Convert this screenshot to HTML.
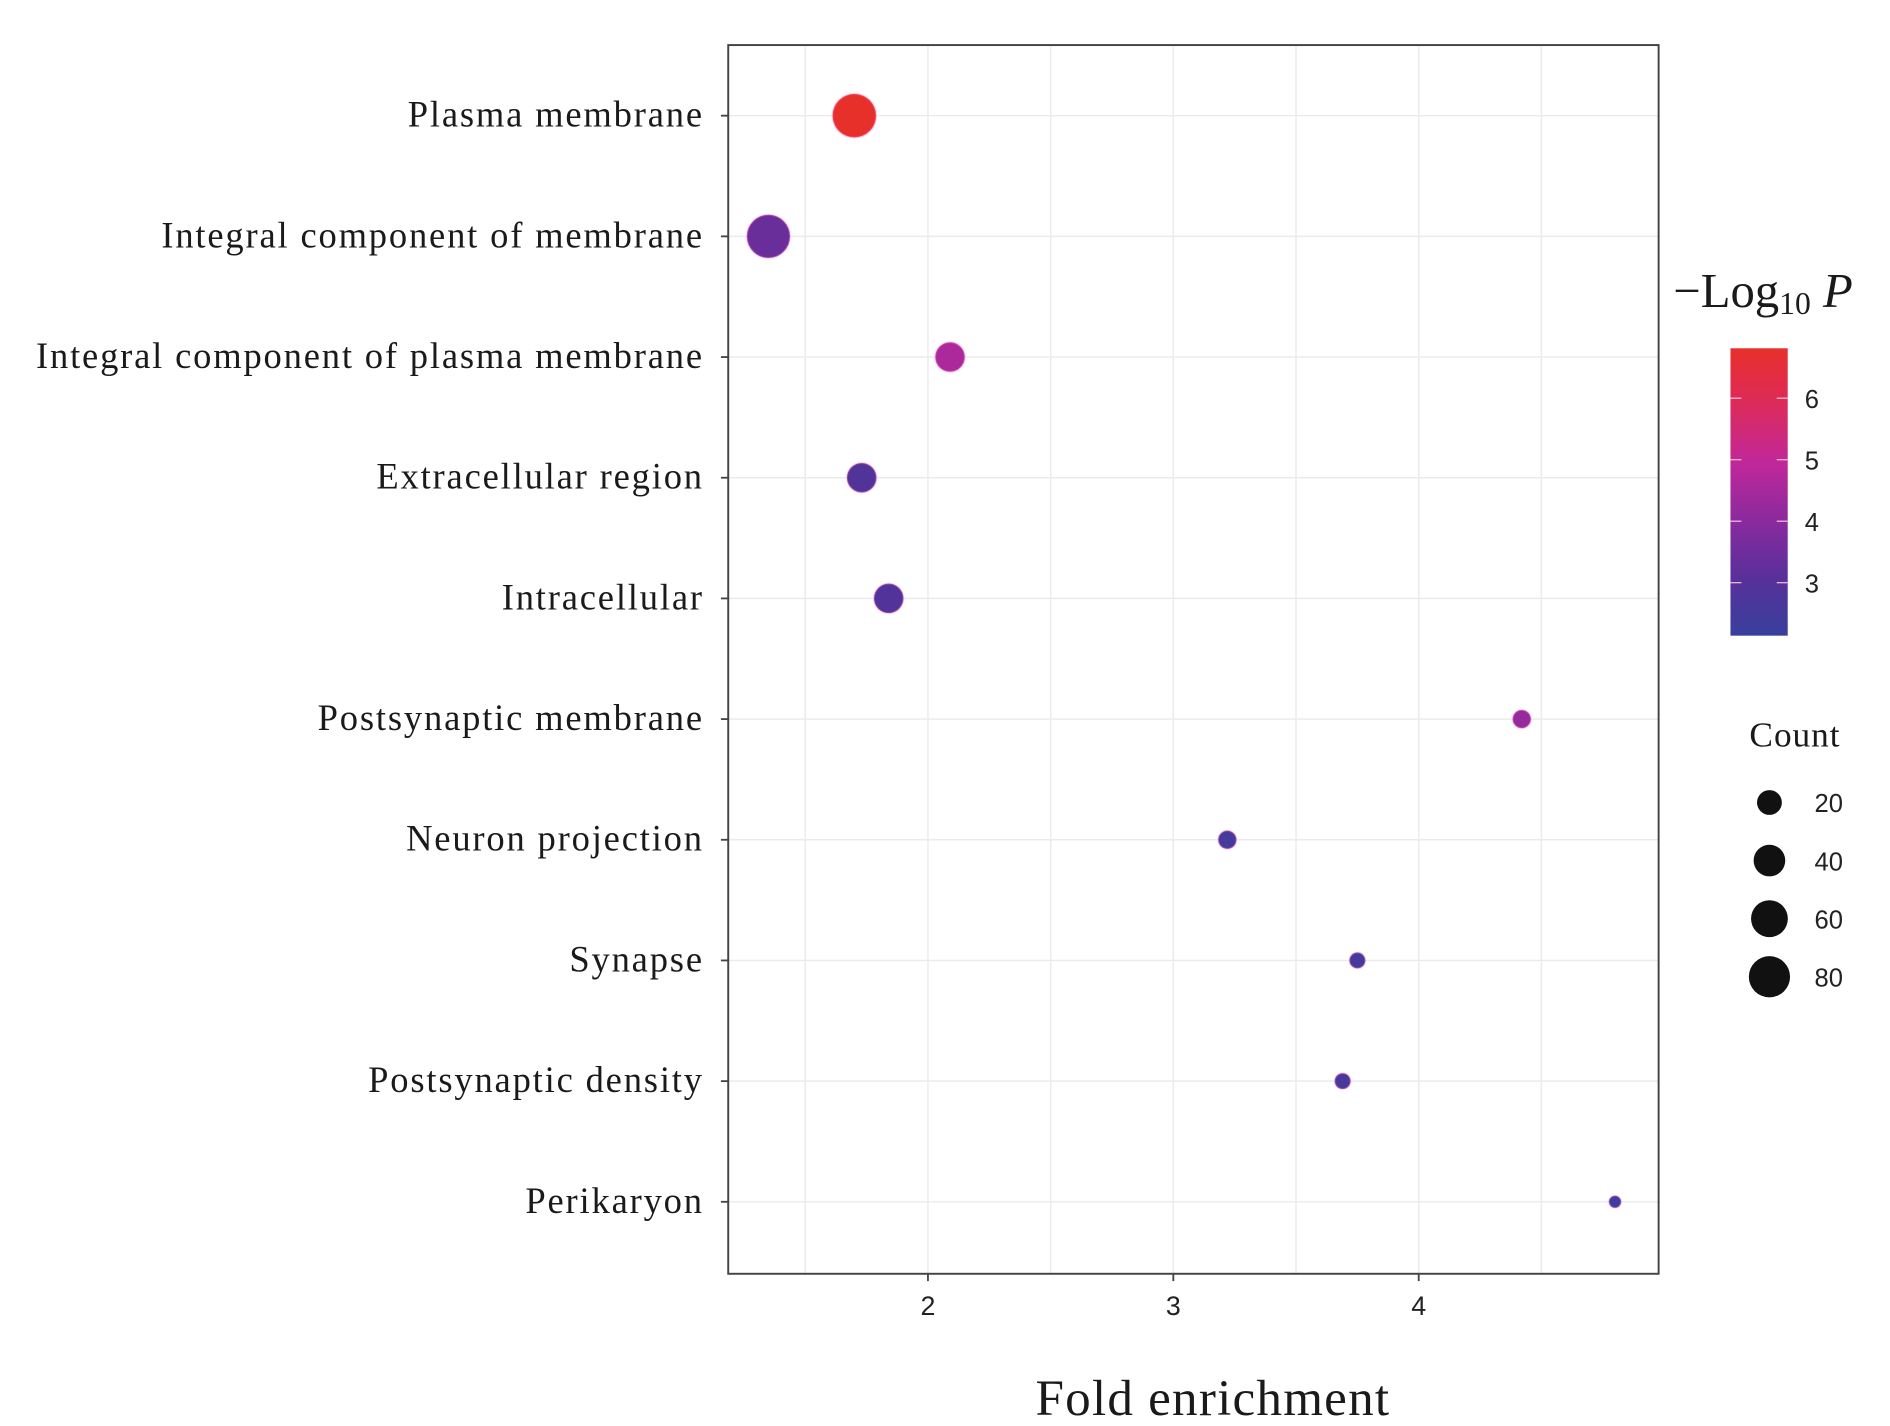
<!DOCTYPE html>
<html><head><meta charset="utf-8"><style>
html,body{margin:0;padding:0;background:#fff;}
svg{display:block;}
.lab{font-family:"Liberation Serif",serif;fill:#1a1a1a;}
.tk{font-family:"Liberation Sans",sans-serif;fill:#222;}
</style></head><body>
<svg id="chart" width="1890" height="1426" viewBox="0 0 1552 1171" preserveAspectRatio="none" xmlns="http://www.w3.org/2000/svg">
<defs>
<linearGradient id="cg" x1="0" y1="1" x2="0" y2="0">
<stop offset="0" stop-color="#383f9c"/>
<stop offset="0.2" stop-color="#58309a"/>
<stop offset="0.4" stop-color="#8a2a9e"/>
<stop offset="0.6" stop-color="#c0289a"/>
<stop offset="0.8" stop-color="#dc2a5c"/>
<stop offset="1" stop-color="#e8302a"/>
</linearGradient>
</defs>
<g id="grid"></g>
<g id="marks"></g>
<rect x="598" y="37" width="764" height="1009" fill="none" stroke="#444" stroke-width="1.6"/>
<g id="axes"></g>
<text class="lab" x="996" y="1162" text-anchor="middle" font-size="42" letter-spacing="1">Fold enrichment</text>
<g>
<text class="lab" x="1374" y="252" font-size="40">−Log<tspan font-size="26" dy="6">10</tspan><tspan dy="-6"> </tspan><tspan font-style="italic">P</tspan></text>
<rect x="1421" y="286" width="47" height="236" fill="url(#cg)"/>
<g id="cbticks"></g>
</g>
<g id="sizeleg">
<text class="lab" x="1474" y="613" text-anchor="middle" font-size="29" letter-spacing="0.8">Count</text>
</g>
</svg>
<script>
const categories=["Plasma membrane","Integral component of membrane","Integral component of plasma membrane","Extracellular region","Intracellular","Postsynaptic membrane","Neuron projection","Synapse","Postsynaptic density","Perikaryon"];
const foldEnrichment=[1.70,1.35,2.09,1.73,1.84,4.42,3.22,3.75,3.69,4.80];
const logP=[6.8,3.4,4.6,2.9,2.9,4.2,2.5,2.5,2.6,2.3];
const counts=[92,90,33,33,33,7,7,4,4,1];
const xTicks=[2,3,4];
const cbTicks=[3,4,5,6];
const sizeBreaks=[20,40,60,80];

const NS="http://www.w3.org/2000/svg";
const L=598,R=1362,T=37,B=1046;
const x=v=>762+(v-2)*201.5;
const y=i=>95+i*99.1;
const rad=c=>3.5+1.5*Math.sqrt(c);
const cbY=v=>327+(6-v)*50.5;
function lerp(a,b,t){return a.map((v,i)=>Math.round(v+(b[i]-v)*t));}
const stops=[[2.13,[56,63,156]],[3.07,[88,48,154]],[4.0,[138,42,158]],[4.94,[192,40,154]],[5.87,[220,42,92]],[6.81,[232,48,42]]];
function col(v){v=Math.max(2.13,Math.min(6.81,v));for(let i=0;i<stops.length-1;i++){if(v<=stops[i+1][0]){const t=(v-stops[i][0])/(stops[i+1][0]-stops[i][0]);const c=lerp(stops[i][1],stops[i+1][1],t);return `rgb(${c[0]},${c[1]},${c[2]})`;}}return "rgb(232,48,42)";}
function mk(tag,attrs,parent,text){const e=document.createElementNS(NS,tag);for(const k in attrs)e.setAttribute(k,attrs[k]);if(text!==undefined)e.textContent=text;parent.appendChild(e);return e;}

const grid=document.getElementById('grid');
[1.5,2,2.5,3,3.5,4,4.5].forEach(v=>{const l=mk('line',{x1:x(v),x2:x(v),y1:T,y2:B,stroke:'#ebebeb','stroke-width':1.2},grid);

});
categories.forEach((c,i)=>{const l=mk('line',{x1:L,x2:R,y1:y(i),y2:y(i),stroke:'#ebebeb','stroke-width':1.2},grid);

});

const axes=document.getElementById('axes');
categories.forEach((c,i)=>{
const t=mk('line',{x1:L-6,x2:L,y1:y(i),y2:y(i),stroke:'#444','stroke-width':1.5},axes);


const tx=mk('text',{x:L-20,y:y(i)+9,'text-anchor':'end','font-size':30,'letter-spacing':1.5,class:'lab'},axes,c);


});
xTicks.forEach(v=>{
const t=mk('line',{x1:x(v),x2:x(v),y1:B,y2:B+6,stroke:'#444','stroke-width':1.5},axes);


const tx=mk('text',{x:x(v),y:B+34,'text-anchor':'middle','font-size':22,class:'tk'},axes,String(v));


});

const marks=document.getElementById('marks');
categories.forEach((c,i)=>{
const p=mk('circle',{cx:x(foldEnrichment[i]),cy:y(i),r:rad(counts[i]),fill:col(logP[i]),stroke:'rgba(255,120,200,0.35)','stroke-width':1.5},marks);


});

const cbt=document.getElementById('cbticks');
cbTicks.forEach(v=>{
mk('line',{x1:1421,x2:1430,y1:cbY(v),y2:cbY(v),stroke:'#f5c0d8','stroke-width':1},cbt);
mk('line',{x1:1459,x2:1468,y1:cbY(v),y2:cbY(v),stroke:'#f5c0d8','stroke-width':1},cbt);
const tx=mk('text',{x:1482,y:cbY(v)+8,'font-size':21,class:'tk'},cbt,String(v));


});

const sl=document.getElementById('sizeleg');
sizeBreaks.forEach((s,i)=>{
const cy=659+i*47.7;
const c=mk('circle',{cx:1453,cy:cy,r:rad(s),fill:'#111'},sl);


const tx=mk('text',{x:1490,y:cy+8,'font-size':21,class:'tk'},sl,String(s));


});
</script>
</body></html>
